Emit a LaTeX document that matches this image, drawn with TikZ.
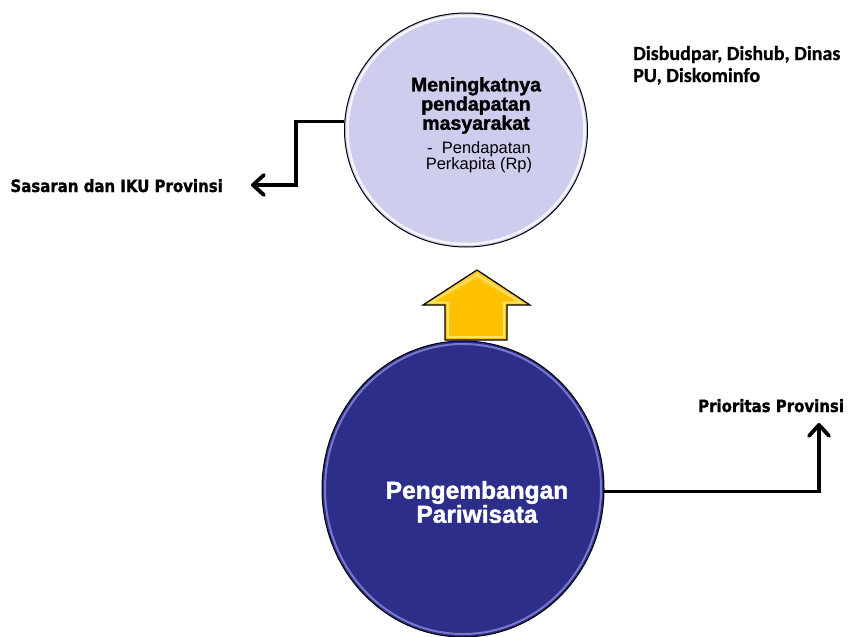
\documentclass[tikz,border=0pt]{standalone}
\usepackage{fontspec}
\setmainfont{Liberation Sans}[BoldFeatures={FakeBold=1.6}]
\newfontfamily\heavyfont{DejaVu Sans}[FakeStretch=0.88, BoldFeatures={FakeBold=1.2}]
\newfontfamily\agencyfont{Carlito}[BoldFeatures={FakeBold=0.6}]
\usetikzlibrary{shapes.geometric,arrows.meta}

\definecolor{lavender}{RGB}{205,205,238}
\definecolor{navy}{RGB}{44,46,138}
\definecolor{navyrim}{RGB}{150,154,225}
\definecolor{gold}{RGB}{255,192,0}
\definecolor{goldlight}{RGB}{255,226,110}
\definecolor{goldtop}{RGB}{255,206,40}

\tikzset{
  bubble/.style={ellipse, draw=black, line width=1pt, inner sep=0pt},
  conn/.style={line width=3.8pt, -{Straight Barb[length=11pt,width=20pt,round]}},
  sidelabel/.style={font=\heavyfont\bfseries\fontsize{17}{20}\selectfont, inner sep=0pt},
  agencylabel/.style={font=\agencyfont\bfseries\fontsize{20}{22}\selectfont, inner sep=0pt, align=left},
  goaltitle/.style={font=\bfseries\fontsize{19.5}{17.5}\selectfont, inner sep=0pt, align=center},
  goalnote/.style={font=\fontsize{16.5}{16}\selectfont, inner sep=0pt, align=center},
  programtitle/.style={font=\bfseries\fontsize{24.5}{22}\selectfont, text=white, inner sep=0pt, align=center},
}

\begin{document}
\begin{tikzpicture}[x=1pt,y=-1pt]
\useasboundingbox[fill=white] (0,0) rectangle (849,637);

% goal ellipse (top)
\node[bubble, fill=lavender, minimum width=243pt, minimum height=234pt] (goal) at (466,130) {};
\draw[white, line width=2.5pt, opacity=0.8] (goal.center) ellipse [x radius=118.5, y radius=114];

\node[goaltitle] (gtitle) at (476,105.5) {Meningkatnya\\pendapatan\\masyarakat};
\node[goalnote]  (gnote)  at (479,156.8) {-\ \ Pendapatan\\Perkapita (Rp)};

% program ellipse (bottom)
\node[bubble, fill=navy, minimum width=282pt, minimum height=296pt] (prog) at (463,489) {};
\draw[navyrim, line width=2pt, opacity=0.7] (prog.center) ellipse [x radius=138, y radius=145];

\node[programtitle] (ptitle) at (477,502) {Pengembangan\\Pariwisata};

% block arrow between the two ellipses
\path[top color=goldtop, bottom color=gold, draw=black, line width=1.2pt, line join=miter]
  (477,270) -- (530,305) -- (507,305) -- (507,340) -- (445,340) -- (445,305) -- (423,305) -- cycle;
\draw[goldlight, line width=1.6pt, line join=miter]
  (477,275) -- (521,302.5) -- (504,302.5) -- (504,337) -- (448,337) -- (448,302.5) -- (431,302.5) -- cycle;
\path[fill=gold]
  (477,279) -- (514,301) -- (501,301) -- (501,334) -- (451,334) -- (451,301) -- (438,301) -- cycle;

% side labels
\node[sidelabel, anchor=base east] (sas) at (223,192) {Sasaran dan IKU Provinsi};
\node[sidelabel, anchor=base west] (prio) at (698,412) {Prioritas Provinsi};
\node[agencylabel, anchor=base west] (opd) at (633,82) {Disbudpar, Dishub, Dinas\\PU, Diskominfo};

% connectors
\coordinate (sasend) at (251,185);
\coordinate (prioend) at (819,423);
\draw[conn] (goal.176) -- ++(-48,0) |- (sasend);
\draw[conn] (prog.-1) -| (prioend);
\end{tikzpicture}
\end{document}
